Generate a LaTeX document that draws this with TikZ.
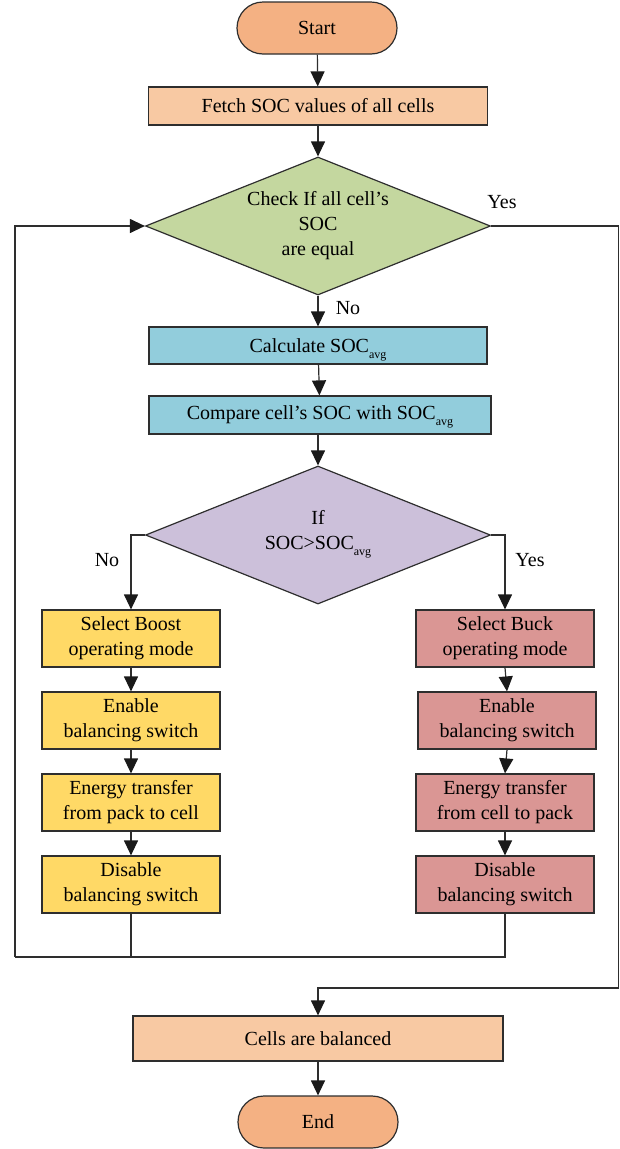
\documentclass[tikz,border=0pt]{standalone}
\usepackage{fontspec}
\setmainfont{Liberation Serif}
\usetikzlibrary{arrows.meta,shapes.geometric}
\definecolor{linec}{HTML}{2E2E2E}
\definecolor{tipc}{HTML}{1A1A1A}
\definecolor{termc}{HTML}{F4B183}
\definecolor{peachc}{HTML}{F8C9A3}
\definecolor{greenc}{HTML}{C4D79F}
\definecolor{bluec}{HTML}{92CDDC}
\definecolor{purplec}{HTML}{CCC0DA}
\definecolor{yellowc}{HTML}{FFD966}
\definecolor{redc}{HTML}{DA9694}
\newcommand\avgsub{\smash{\raisebox{-6pt}{\fontsize{12}{12}\selectfont avg}}}
\begin{document}
\begin{tikzpicture}[x=1pt,y=-1pt,font=\fontsize{20}{25}\selectfont,
  box/.style={draw=linec,line width=1.2pt,rectangle,inner sep=0pt,align=center},
  term/.style={box,rounded corners=26pt,fill=termc,minimum width=160pt,minimum height=52pt},
  dia/.style={draw=linec,line width=1.2pt,diamond,inner sep=0pt,minimum width=345pt,minimum height=138pt},
  lbox/.style={box,fill=yellowc,minimum width=178pt,minimum height=57pt},
  rbox/.style={box,fill=redc,minimum width=178pt,minimum height=57pt},
  arr/.style={draw=linec,line width=1.2pt,-{Triangle[length=15pt,width=14pt,color=tipc]}},
  ln/.style={draw=linec,line width=1.2pt},
  lbl/.style={inner sep=0pt}]
\useasboundingbox (0,0) rectangle (620,1149);
\node[term] (start) at (317,28) {Start};
\node[box,fill=peachc,minimum width=339pt,minimum height=38pt] (fetch) at (318,106) {Fetch SOC values of all cells};
\node[dia,fill=greenc] (d1) at (318,226) {};
\node[align=center,inner sep=0pt] (d1t) at (318,226) {Check If all cell’s\\SOC\\are equal};
\node[box,fill=bluec,minimum width=338pt,minimum height=37pt] (calc) at (318,345.5) {Calculate SOC\avgsub};
\node[box,fill=bluec,minimum width=342pt,minimum height=38pt] (comp) at (320,415) {Compare cell’s SOC with SOC\avgsub};
\node[dia,fill=purplec] (d2) at (318,535) {};
\node[align=center,inner sep=0pt] (d2t) at (318,530) {If\\SOC>SOC\avgsub};
\node[lbox] (L1) at (131,638.5) {Select Boost\\operating mode};
\node[lbox] (L2) at (131,720.5) {Enable\\balancing switch};
\node[lbox] (L3) at (131,802.5) {Energy transfer\\from pack to cell};
\node[lbox] (L4) at (131,884.5) {Disable\\balancing switch};
\node[rbox] (R1) at (505,638.5) {Select Buck\\operating mode};
\node[rbox] (R2) at (507,720.5) {Enable\\balancing switch};
\node[rbox] (R3) at (505,802.5) {Energy transfer\\from cell to pack};
\node[rbox] (R4) at (505,884.5) {Disable\\balancing switch};
\node[box,fill=peachc,minimum width=370pt,minimum height=45pt] (cells) at (318,1038.5) {Cells are balanced};
\node[term] (end) at (318,1122) {End};
\node[lbl] (yes1) at (502,202) {Yes};
\node[lbl] (no1) at (348,308) {No};
\node[lbl] (no2) at (107,560) {No};
\node[lbl] (yes2) at (530,560) {Yes};
\coordinate (loopL) at (15,957);
\coordinate (yesR) at (618.5,988);
\draw[arr] (start) -- (fetch);
\draw[arr] (fetch) -- (d1);
\draw[arr] (d1.south) -- (calc.north);
\draw[arr] (calc) -- (comp);
\draw[arr] (d2.north |- comp.south) -- (d2.north);
\draw[arr] (d2.west) -| (L1.north);
\draw[arr] (d2.east) -| (R1.north);
\draw[arr] (L1) -- (L2);
\draw[arr] (L2) -- (L3);
\draw[arr] (L3) -- (L4);
\draw[arr] (R1.south) -- (R2.north);
\draw[arr] (R2.south) -- (R3.north);
\draw[arr] (R3) -- (R4);
\draw[ln] (R4.south) |- (loopL);
\draw[ln] (L4.south) -- (L4.south |- loopL);
\draw[arr] (loopL) |- (d1.west);
\draw[arr] (d1.east) -| (yesR) -| (cells.north);
\draw[arr] (cells) -- (end);
\end{tikzpicture}
\end{document}
